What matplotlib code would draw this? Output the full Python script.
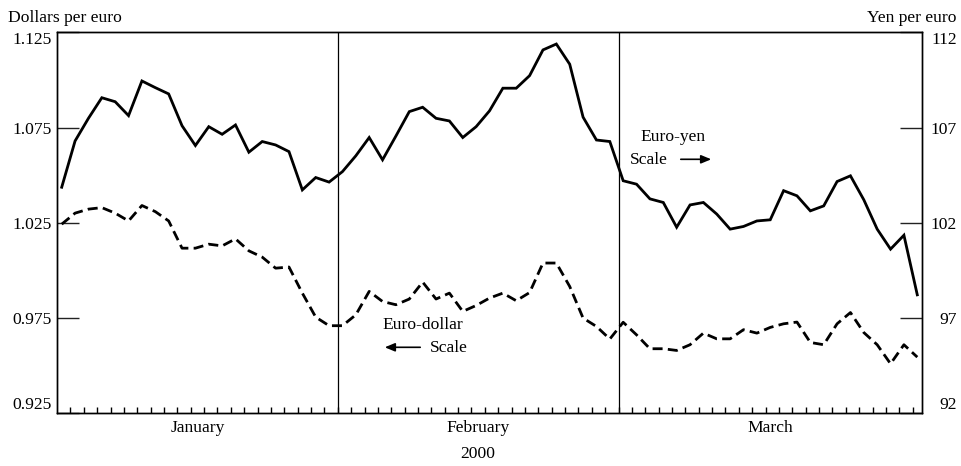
import matplotlib
matplotlib.use("Agg")
import matplotlib.pyplot as plt
import numpy as np

plt.rcParams['font.family'] = ['Liberation Serif', 'DejaVu Serif']

# Daily observations, January-March 2000 (trading days)
months = ["January", "February", "March"]
days_per_month = [21, 21, 23]
year_label = "2000"

euro_yen = [103.87, 106.30, 107.49, 108.57, 108.36, 107.63, 109.45, 109.10, 108.77, 107.10,
            106.06, 107.05, 106.65, 107.14, 105.71, 106.27, 106.09, 105.74, 103.73, 104.38,
            104.14,
            104.69, 105.52, 106.48, 105.31, 106.56, 107.84, 108.07, 107.49, 107.35, 106.48,
            107.05, 107.88, 109.07, 109.07, 109.73, 111.08, 111.39, 110.33, 107.55, 106.35,
            106.27,
            104.21, 104.03, 103.26, 103.07, 101.77, 102.94, 103.07, 102.46, 101.67, 101.81,
            102.10, 102.16, 103.69, 103.42, 102.63, 102.89, 104.17, 104.47, 103.21, 101.67,
            100.62, 101.35, 98.22]

euro_dollar = [1.0243, 1.0301, 1.0322, 1.0330, 1.0301, 1.0260, 1.0341, 1.0309, 1.0260, 1.0117,
               1.0117, 1.0138, 1.0129, 1.0166, 1.0103, 1.0070, 1.0012, 1.0018, 0.9881, 0.9755,
               0.9710,
               0.9710, 0.9767, 0.9890, 0.9837, 0.9820, 0.9850, 0.9939, 0.9850, 0.9881, 0.9785,
               0.9816, 0.9855, 0.9881, 0.9841, 0.9884, 1.0039, 1.0039, 0.9916, 0.9750, 0.9706,
               0.9640,
               0.9728, 0.9662, 0.9589, 0.9589, 0.9580, 0.9610, 0.9671, 0.9641, 0.9641, 0.9689,
               0.9671, 0.9701, 0.9720, 0.9729, 0.9622, 0.9610, 0.9720, 0.9779, 0.9674, 0.9610,
               0.9510, 0.9610, 0.9545]

left_ticks = [0.925, 0.975, 1.025, 1.075, 1.125]
left_labels = ["0.925", "0.975", "1.025", "1.075", "1.125"]
right_ticks = [92, 97, 102, 107, 112]
right_labels = ["92", "97", "102", "107", "112"]

W, H = 962, 466
fig = plt.figure(figsize=(W / 100, H / 100), dpi=100)
ax = fig.add_axes([57.3 / W, 1 - 413.3 / H, (921.7 - 57.3) / W, (413.3 - 32.4) / H])
ax2 = ax.twinx()

n = len(euro_yen)
x = np.arange(n)
FS = 12.6

ax.plot(x, euro_dollar, color='black', lw=2.0, linestyle=(0, (3.6, 1.9)),
        solid_joinstyle='miter')
ax2.plot(x, euro_yen, color='black', lw=2.0, solid_joinstyle='miter')

ax.set_xlim(-0.33, n - 1 + 0.33)
ax.set_ylim(0.925, 1.125)
ax2.set_ylim(92, 112)

# day ticks and month separators
off = 0.65
ax.set_xticks(np.arange(n - 1) + off)
ax.set_xticklabels([])
ax.tick_params(axis='x', direction='in', length=4.3, width=1.0, color='black')
bounds = np.cumsum(days_per_month)[:-1]
for b in bounds:
    ax.axvline(b - 1 + off, color='black', lw=0.9)

ax.set_yticks(left_ticks)
ax.set_yticklabels(left_labels, fontsize=FS)
ax.tick_params(axis='y', direction='in', length=15.6, width=1.0, pad=4, color='#222222')
ax2.set_yticks(right_ticks)
ax2.set_yticklabels(right_labels, fontsize=FS)
ax2.tick_params(axis='y', direction='in', length=15.6, width=1.0, pad=25.4, color='#222222')
for lab in ax2.get_yticklabels():
    lab.set_horizontalalignment('right')

for axx in (ax, ax2):
    labs = axx.get_yticklabels()
    labs[0].set_verticalalignment('bottom')
    labs[-1].set_verticalalignment('top')

for sp in ax.spines.values():
    sp.set_linewidth(1.0)
for sp in ax2.spines.values():
    sp.set_linewidth(1.0)

# month labels
edges = [-0.33] + [b - 1 + off for b in bounds] + [n - 1 + 0.33]
for i, m in enumerate(months):
    xc = (edges[i] + edges[i + 1]) / 2
    ax.text(xc, -0.018, m, transform=ax.get_xaxis_transform(), ha='center', va='top',
            fontsize=FS)
xc_feb = (edges[1] + edges[2]) / 2
ax.text(xc_feb, -0.086, year_label, transform=ax.get_xaxis_transform(), ha='center',
        va='top', fontsize=FS)

# axis titles
fig.text(8 / W, 1 - 21.5 / H, "Dollars per euro", ha='left', va='baseline', fontsize=FS)
fig.text(957 / W, 1 - 21.5 / H, "Yen per euro", ha='right', va='baseline', fontsize=FS)

# in-plot annotations (figure pixel positions)
def fx(px):
    return px / W

def fy(py):
    return 1 - py / H

fig.text(fx(640), fy(141), "Euro-yen", ha='left', va='baseline', fontsize=FS)
fig.text(fx(630), fy(164), "Scale", ha='left', va='baseline', fontsize=FS)
fig.add_artist(plt.matplotlib.patches.FancyArrowPatch(
    (fx(678), fy(159.3)), (fx(714), fy(159.3)), transform=fig.transFigure,
    arrowstyle='-|>,head_length=6,head_width=2.5', color='black', lw=1.2))

fig.text(fx(382), fy(329), "Euro-dollar", ha='left', va='baseline', fontsize=FS)
fig.text(fx(430), fy(352), "Scale", ha='left', va='baseline', fontsize=FS)
fig.add_artist(plt.matplotlib.patches.FancyArrowPatch(
    (fx(423), fy(347.3)), (fx(382), fy(347.3)), transform=fig.transFigure,
    arrowstyle='-|>,head_length=6,head_width=2.5', color='black', lw=1.2))

fig.savefig("out.png", dpi=100)
